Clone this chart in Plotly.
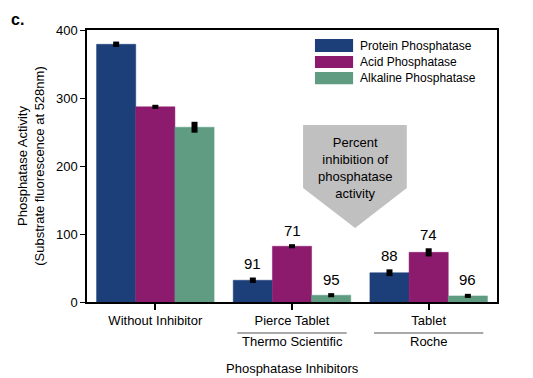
import plotly.graph_objects as go

categories = ["Without Inhibitor", "Pierce Tablet", "Tablet"]
sub_labels = ["", "Thermo Scientific", "Roche"]
series_names = ["Protein Phosphatase", "Acid Phosphatase", "Alkaline Phosphatase"]
protein = [379, 32, 43]
acid = [287, 82, 73]
alkaline = [257, 10, 9]
protein_err = [4, 4, 5]
acid_err = [3, 3, 6]
alkaline_err = [8, 3, 3]
pct_protein = ["", "91", "88"]
pct_acid = ["", "71", "74"]
pct_alkaline = ["", "95", "96"]
colors = ["#1c3f79", "#8c1b6e", "#5f9c82"]
y_ticks = [0, 100, 200, 300, 400]

FONT = "Liberation Sans, Arial, sans-serif"

fig = go.Figure()
values = [protein, acid, alkaline]
errs = [protein_err, acid_err, alkaline_err]
pcts = [pct_protein, pct_acid, pct_alkaline]
for name, vals, err, col in zip(series_names, values, errs, colors):
    fig.add_trace(go.Bar(
        x=categories, y=vals, name=name, marker_color=col,
        marker_line=dict(color=col, width=0.5),
        error_y=dict(type="data", array=err, visible=True, color="black",
                     thickness=6, width=0),
        showlegend=False,
    ))

# percent inhibition labels
bar_px = 410 / 3 * 0.86 / 3
annotations = []
for k, (vals, err, pc) in enumerate(zip(values, errs, pcts)):
    for i, cat in enumerate(categories):
        if pc[i]:
            annotations.append(dict(
                x=cat, y=vals[i] + err[i], xref="x", yref="y",
                text=pc[i], showarrow=False, xshift=(k - 1) * bar_px,
                yshift=14, yanchor="middle",
                font=dict(family=FONT, size=15, color="black")))

# manual legend
shapes = []
leg_y = [(0.967, 0.919), (0.904, 0.860), (0.846, 0.801)]
for name, col, (y1, y0) in zip(series_names, colors, leg_y):
    shapes.append(dict(type="rect", xref="paper", yref="paper",
                       x0=0.556, x1=0.649, y0=y0, y1=y1,
                       fillcolor=col, line=dict(width=0)))
    annotations.append(dict(x=0.666, y=(y0 + y1) / 2, xref="paper", yref="paper",
                            text=name, showarrow=False, xanchor="left",
                            yanchor="middle", xshift=-2,
                            font=dict(family=FONT, size=12, color="black")))

# arrow shape
shapes.append(dict(type="path", xref="paper", yref="paper",
                   path="M0.527,0.651 L0.780,0.651 L0.780,0.419 L0.654,0.272 L0.527,0.419 Z",
                   fillcolor="#c0c0c0", line=dict(width=0)))
annotations.append(dict(x=0.654, y=0.493, xref="paper", yref="paper",
                        text="Percent<br>inhibition of<br>phosphatase<br>activity",
                        showarrow=False, xanchor="center", yanchor="middle",
                        font=dict(family=FONT, size=13, color="black")))

# sub labels with rules
for i, sub in enumerate(sub_labels):
    if sub:
        shapes.append(dict(type="line", xref="x", yref="paper",
                           x0=i - 0.4, x1=i + 0.4, y0=-0.114, y1=-0.114,
                           line=dict(color="#555555", width=1.2)))
        annotations.append(dict(x=categories[i], y=-0.147, xref="x", yref="paper",
                                text=sub, showarrow=False, yanchor="middle",
                                font=dict(family=FONT, size=13, color="black")))

annotations.append(dict(x=0.5, y=-0.243, xref="paper", yref="paper",
                        text="Phosphatase Inhibitors", showarrow=False,
                        yanchor="middle",
                        font=dict(family=FONT, size=13, color="black")))
annotations.append(dict(x=-0.19, y=1.078, xref="paper", yref="paper",
                        text="<b>c.</b>", showarrow=False, xanchor="left",
                        yanchor="top",
                        font=dict(family=FONT, size=16, color="black")))

fig.update_layout(
    width=525, height=370,
    margin=dict(l=79, r=36, t=22, b=76),
    paper_bgcolor="white", plot_bgcolor="white",
    barmode="group", bargap=0.14, bargroupgap=0,
    font=dict(family=FONT, size=13, color="black"),
    shapes=shapes, annotations=annotations,
    xaxis=dict(showline=True, linecolor="black", linewidth=1.5, mirror=True,
               ticks="outside", ticklen=6, tickcolor="black", tickwidth=1.5,
               tickfont=dict(family=FONT, size=13), showgrid=False,
               range=[-0.5, 2.5], automargin=False),
    yaxis=dict(range=[0, 400], tickvals=y_ticks, showline=True, linecolor="black",
               linewidth=1.5, mirror=True, ticks="outside", ticklen=5,
               tickcolor="black", tickfont=dict(family=FONT, size=13),
               showgrid=False, zeroline=False, automargin=False,
               title=dict(text="Phosphatase Activity<br>(Substrate fluorescence at 528nm)",
                          font=dict(family=FONT, size=13), standoff=8)),
)

fig.write_html("out.html")
